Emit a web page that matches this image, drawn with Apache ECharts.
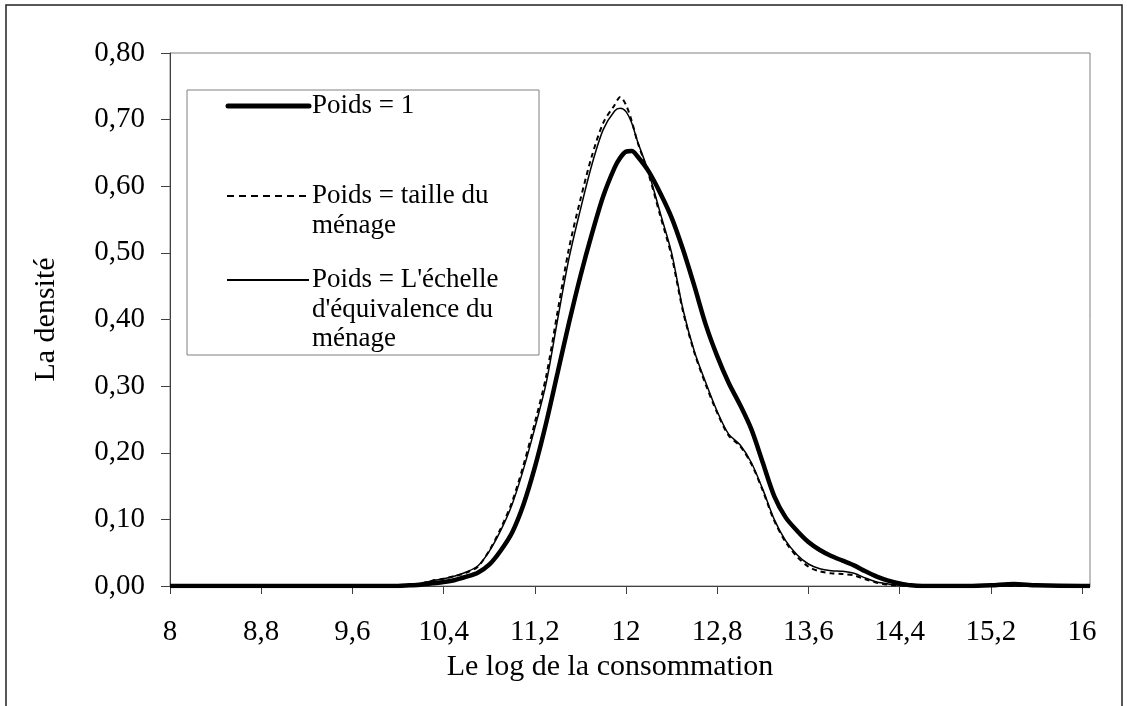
<!DOCTYPE html>
<html>
<head>
<meta charset="utf-8">
<title>La densité</title>
<script src="https://cdn.jsdelivr.net/npm/echarts@6/dist/echarts.min.js"></script>
<style>
    html, body { margin: 0; padding: 0; background: #fff; }
    #densityChart { width: 1127px; height: 706px; }
</style>
</head>
<body>
<div id="densityChart"></div>
<script>
// abscisses communes (log de la consommation)
var xs = [8, 9, 10,
    10.1, 10.2, 10.3, 10.4, 10.5, 10.6, 10.7, 10.8, 10.9, 11, 11.1, 11.2, 11.3, 11.4, 11.5, 11.6, 11.7, 11.8, 11.9,
    11.95, 12, 12.05,
    12.1, 12.2, 12.3, 12.4, 12.5, 12.6, 12.7, 12.8, 12.9, 13, 13.1, 13.2, 13.3, 13.4, 13.5, 13.6, 13.7, 13.8, 13.9,
    14, 14.1, 14.2, 14.3, 14.4, 14.5, 14.6,
    15, 15.2, 15.4, 15.6, 16, 16.07];

// Poids = 1
var poidsUn = [0, 0, 0,
    0.001, 0.002, 0.004, 0.006, 0.009, 0.014, 0.020, 0.032, 0.053, 0.080, 0.122, 0.178, 0.245, 0.320, 0.395, 0.465, 0.528, 0.585, 0.628,
    0.643, 0.652, 0.653,
    0.645, 0.622, 0.590, 0.553, 0.505, 0.450, 0.392, 0.345, 0.305, 0.272, 0.235, 0.185, 0.135, 0.103, 0.083, 0.066, 0.054, 0.045, 0.038,
    0.031, 0.022, 0.014, 0.008, 0.004, 0.001, 0,
    0, 0.001, 0.003, 0.001, 0, 0];

// Poids = taille du ménage
var poidsTaille = [0, 0, 0,
    0.002, 0.004, 0.008, 0.011, 0.015, 0.020, 0.029, 0.053, 0.086, 0.126, 0.181, 0.245, 0.315, 0.412, 0.507, 0.580, 0.645, 0.695, 0.722,
    0.734, 0.722, 0.698,
    0.667, 0.617, 0.556, 0.495, 0.412, 0.350, 0.302, 0.260, 0.226, 0.210, 0.183, 0.143, 0.098, 0.066, 0.044, 0.029, 0.022, 0.019, 0.018,
    0.016, 0.010, 0.005, 0.002, 0.001, 0, 0,
    0, 0, 0, 0, 0, 0];

// Poids = L'échelle d'équivalence du ménage
var poidsEchelle = [0, 0, 0,
    0.002, 0.004, 0.008, 0.011, 0.015, 0.021, 0.030, 0.052, 0.083, 0.122, 0.175, 0.237, 0.305, 0.400, 0.492, 0.565, 0.632, 0.685, 0.713,
    0.717, 0.712, 0.695,
    0.668, 0.620, 0.560, 0.500, 0.415, 0.352, 0.305, 0.262, 0.228, 0.212, 0.185, 0.145, 0.100, 0.068, 0.047, 0.033, 0.026, 0.023, 0.022,
    0.019, 0.012, 0.006, 0.003, 0.001, 0, 0,
    0, 0, 0, 0, 0, 0];

var xTicks = [8, 8.8, 9.6, 10.4, 11.2, 12, 12.8, 13.6, 14.4, 15.2, 16];

var legendNames = ['Poids = 1', 'Poids = taille du\nménage', "Poids = L'échelle\nd'équivalence du\nménage"];

var fontFamily = '"Liberation Serif", "Times New Roman", serif';

function pairs(ys) {
    var out = [];
    for (var i = 0; i < xs.length; i++) {
        out.push([xs[i], ys[i]]);
    }
    return out;
}

var dom = document.getElementById('densityChart');
var myChart = echarts.init(dom, null, { renderer: 'canvas' });

var option = {
    animation: false,
    backgroundColor: '#fff',
    textStyle: { fontFamily: fontFamily },
    grid: {
        left: 170,
        top: 53,
        right: 37,
        bottom: 120,
        show: true,
        borderColor: '#808080',
        borderWidth: 1
    },
    xAxis: {
        type: 'value',
        min: 8,
        max: 16.07,
        name: 'Le log de la consommation',
        nameLocation: 'middle',
        nameGap: 63,
        nameTextStyle: { color: '#000', fontSize: 30, fontFamily: fontFamily, padding: [0, 40, 0, 0] },
        splitLine: { show: false },
        axisLine: { lineStyle: { color: '#404040', width: 1 } },
        axisTick: {
            customValues: xTicks,
            length: 8,
            lineStyle: { color: '#404040' }
        },
        axisLabel: {
            customValues: xTicks,
            margin: 32,
            color: '#000',
            fontSize: 29,
            fontFamily: fontFamily,
            formatter: function(v) {
                return (Math.round(v * 10) / 10).toString().replace('.', ',');
            }
        }
    },
    yAxis: {
        type: 'value',
        min: 0,
        max: 0.8,
        interval: 0.1,
        name: 'La densité',
        nameLocation: 'middle',
        nameGap: 109,
        nameTextStyle: { color: '#000', fontSize: 30, fontFamily: fontFamily },
        splitLine: { show: false },
        axisLine: { show: true, lineStyle: { color: '#404040', width: 1 } },
        axisTick: { show: true, length: 9, lineStyle: { color: '#404040' } },
        axisLabel: {
            margin: 25,
            color: '#000',
            fontSize: 29,
            fontFamily: fontFamily,
            formatter: function(v) {
                return v.toFixed(2).replace('.', ',');
            }
        }
    },
    legend: { show: false },
    series: [{
        name: legendNames[0],
        type: 'line',
        data: pairs(poidsUn),
        showSymbol: false,
        smooth: 0.3,
        lineStyle: { color: '#000', width: 4.5 }
    }, {
        name: legendNames[1],
        type: 'line',
        data: pairs(poidsTaille),
        showSymbol: false,
        smooth: 0.3,
        lineStyle: { color: '#000', width: 2, type: [5, 4] }
    }, {
        name: legendNames[2],
        type: 'line',
        data: pairs(poidsEchelle),
        showSymbol: false,
        smooth: 0.3,
        lineStyle: { color: '#000', width: 1.5 }
    }],
    graphic: [
        // cadre extérieur
        { type: 'rect', silent: true, shape: { x: 6, y: 5, width: 1116, height: 720 },
          style: { fill: 'none', stroke: '#222', lineWidth: 1.5 } },
        // légende
        { type: 'rect', silent: true, shape: { x: 187, y: 90, width: 352, height: 265 },
          style: { fill: '#fff', stroke: '#808080', lineWidth: 1 }, z: 10 },
        { type: 'line', silent: true, shape: { x1: 228, y1: 106, x2: 309, y2: 106 },
          style: { stroke: '#000', lineWidth: 5, lineCap: 'round' }, z: 11 },
        { type: 'text', silent: true, x: 312, y: 106, z: 11,
          style: { text: legendNames[0], fill: '#000', font: '27px ' + fontFamily, verticalAlign: 'middle' } },
        { type: 'line', silent: true, shape: { x1: 227, y1: 196, x2: 309, y2: 196 },
          style: { stroke: '#000', lineWidth: 2, lineDash: [7, 5] }, z: 11 },
        { type: 'text', silent: true, x: 312, y: 181.5, z: 11,
          style: { text: legendNames[1], fill: '#000', font: '27px ' + fontFamily, lineHeight: 29.5, verticalAlign: 'top' } },
        { type: 'line', silent: true, shape: { x1: 227, y1: 280, x2: 309, y2: 280 },
          style: { stroke: '#000', lineWidth: 2 }, z: 11 },
        { type: 'text', silent: true, x: 312, y: 265.5, z: 11,
          style: { text: legendNames[2], fill: '#000', font: '27px ' + fontFamily, lineHeight: 29.5, verticalAlign: 'top' } }
    ]
};

if (option && typeof option === 'object') {
    myChart.setOption(option, true);
}

window.addEventListener('resize', function() {
    myChart.resize();
});
</script>
</body>
</html>
